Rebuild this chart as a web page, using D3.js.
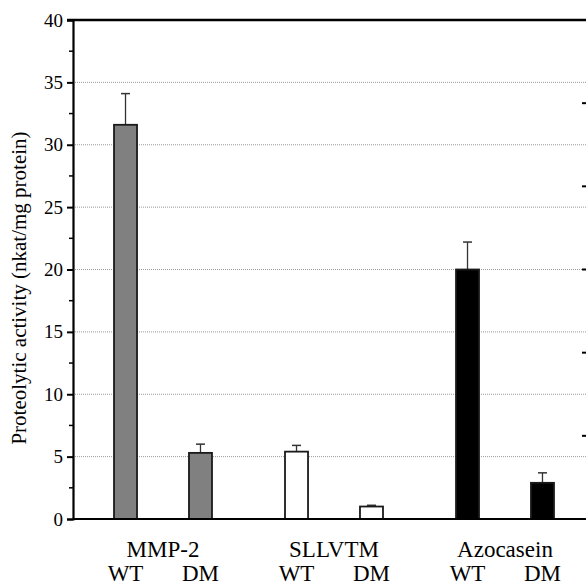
<!DOCTYPE html>
<html>
<head>
<meta charset="utf-8">
<script src="https://cdn.jsdelivr.net/npm/d3@7"></script>
<style>
  html, body { margin: 0; padding: 0; background: #fff; }
  svg { display: block; font-family: "Liberation Serif", "DejaVu Serif", serif; }
</style>
</head>
<body>
<div id="chart"></div>
<script>
// data
var categories = ['MMP-2', 'SLLVTM', 'Azocasein'];
var strains = ['WT', 'DM'];
var activity = [[31.6, 5.3], [5.4, 1.0], [20.0, 2.9]];
var errors = [[2.5, 0.7], [0.5, 0.1], [2.2, 0.8]];
var barColors = ['#808080', '#ffffff', '#000000'];
var yTicks = [0, 5, 10, 15, 20, 25, 30, 35, 40];
var rightTicks = [1, 2, 3, 4, 5];

var W = 586, H = 586;
var plotL = 73, plotT = 20, plotB = 519, plotR = 586;

var svg = d3.select('#chart').append('svg')
    .attr('width', W)
    .attr('height', H)
    .attr('viewBox', [0, 0, W, H]);

var y = d3.scaleLinear().domain([0, 40]).range([plotB, plotT]);
var x0 = d3.scaleBand().domain(categories).range([77.5, 590.5]).padding(0);
var x1 = d3.scaleBand().domain(strains).range([0, x0.bandwidth()])
    .paddingInner(0.693).paddingOuter(0.487);

// dotted grid
svg.append('g').selectAll('line')
    .data(yTicks.filter(function (d) { return d > 0 && d < 40; }))
    .join('line')
    .attr('x1', plotL).attr('x2', plotR)
    .attr('y1', function (d) { return y(d); })
    .attr('y2', function (d) { return y(d); })
    .attr('stroke', '#9a9a9a')
    .attr('stroke-width', 1)
    .attr('stroke-dasharray', '1,1');

// partial right axis of the neighbouring panel (only its ticks show)
var yr = d3.scaleLinear().domain([0, 6]).range([plotB, plotT]);
svg.append('g').selectAll('line')
    .data(rightTicks)
    .join('line')
    .attr('x1', 582).attr('x2', 586)
    .attr('y1', function (d) { return yr(d); })
    .attr('y2', function (d) { return yr(d); })
    .attr('stroke', '#000')
    .attr('stroke-width', 2);

// bars
var groups = svg.append('g').selectAll('g')
    .data(categories)
    .join('g')
    .attr('transform', function (d) { return 'translate(' + x0(d) + ',0)'; });

groups.each(function (cat, i) {
    var g = d3.select(this);
    var rows = strains.map(function (s, j) {
        return { strain: s, value: activity[i][j], err: errors[i][j] };
    });
    var cx = function (d) { return x1(d.strain) + x1.bandwidth() / 2; };

    g.selectAll('line.err')
        .data(rows)
        .join('line').attr('class', 'err')
        .attr('x1', cx).attr('x2', cx)
        .attr('y1', function (d) { return y(d.value); })
        .attr('y2', function (d) { return y(d.value + d.err); })
        .attr('stroke', '#333').attr('stroke-width', 1.3);
    g.selectAll('line.cap')
        .data(rows)
        .join('line').attr('class', 'cap')
        .attr('x1', function (d) { return cx(d) - 4.5; })
        .attr('x2', function (d) { return cx(d) + 4.5; })
        .attr('y1', function (d) { return y(d.value + d.err); })
        .attr('y2', function (d) { return y(d.value + d.err); })
        .attr('stroke', '#333').attr('stroke-width', 1.5);

    g.selectAll('rect')
        .data(rows)
        .join('rect')
        .attr('x', function (d) { return x1(d.strain); })
        .attr('y', function (d) { return y(d.value); })
        .attr('width', x1.bandwidth())
        .attr('height', function (d) { return plotB - y(d.value); })
        .attr('fill', barColors[i])
        .attr('stroke', '#1a1a1a')
        .attr('stroke-width', 1.8);

    g.append('text')
        .attr('x', x0.bandwidth() / 2)
        .attr('y', 557)
        .attr('text-anchor', 'middle')
        .attr('font-size', '23px')
        .text(cat);

    g.selectAll('text.strain')
        .data(rows)
        .join('text').attr('class', 'strain')
        .attr('x', cx)
        .attr('y', 581)
        .attr('text-anchor', 'middle')
        .attr('font-size', '23px')
        .text(function (d) { return d.strain; });
});

// left axis
var yAxis = svg.append('g')
    .attr('transform', 'translate(' + plotL + ',0)')
    .call(d3.axisLeft(y).tickValues(yTicks).tickSize(6).tickPadding(4));
yAxis.select('.domain').attr('stroke-width', 2.2);
yAxis.selectAll('.tick line').attr('stroke-width', 2);
yAxis.selectAll('.tick text')
    .attr('font-family', '"Liberation Serif", serif')
    .attr('font-size', '19px')
    .attr('fill', '#000');

// minor ticks
svg.append('g').selectAll('line')
    .data(d3.range(2.5, 40, 5))
    .join('line')
    .attr('x1', plotL - 4).attr('x2', plotL)
    .attr('y1', function (d) { return y(d); })
    .attr('y2', function (d) { return y(d); })
    .attr('stroke', '#000').attr('stroke-width', 1.5);

// frame lines
svg.append('line')
    .attr('x1', plotL).attr('x2', plotR)
    .attr('y1', plotB).attr('y2', plotB)
    .attr('stroke', '#000').attr('stroke-width', 2.2);
svg.append('line')
    .attr('x1', plotL - 6).attr('x2', plotR)
    .attr('y1', plotT).attr('y2', plotT)
    .attr('stroke', '#000').attr('stroke-width', 2.5);

// y label
svg.append('text')
    .attr('transform', 'translate(26,288) rotate(-90)')
    .attr('text-anchor', 'middle')
    .attr('font-size', '21px')
    .text('Proteolytic activity (nkat/mg protein)');
</script>
</body>
</html>
